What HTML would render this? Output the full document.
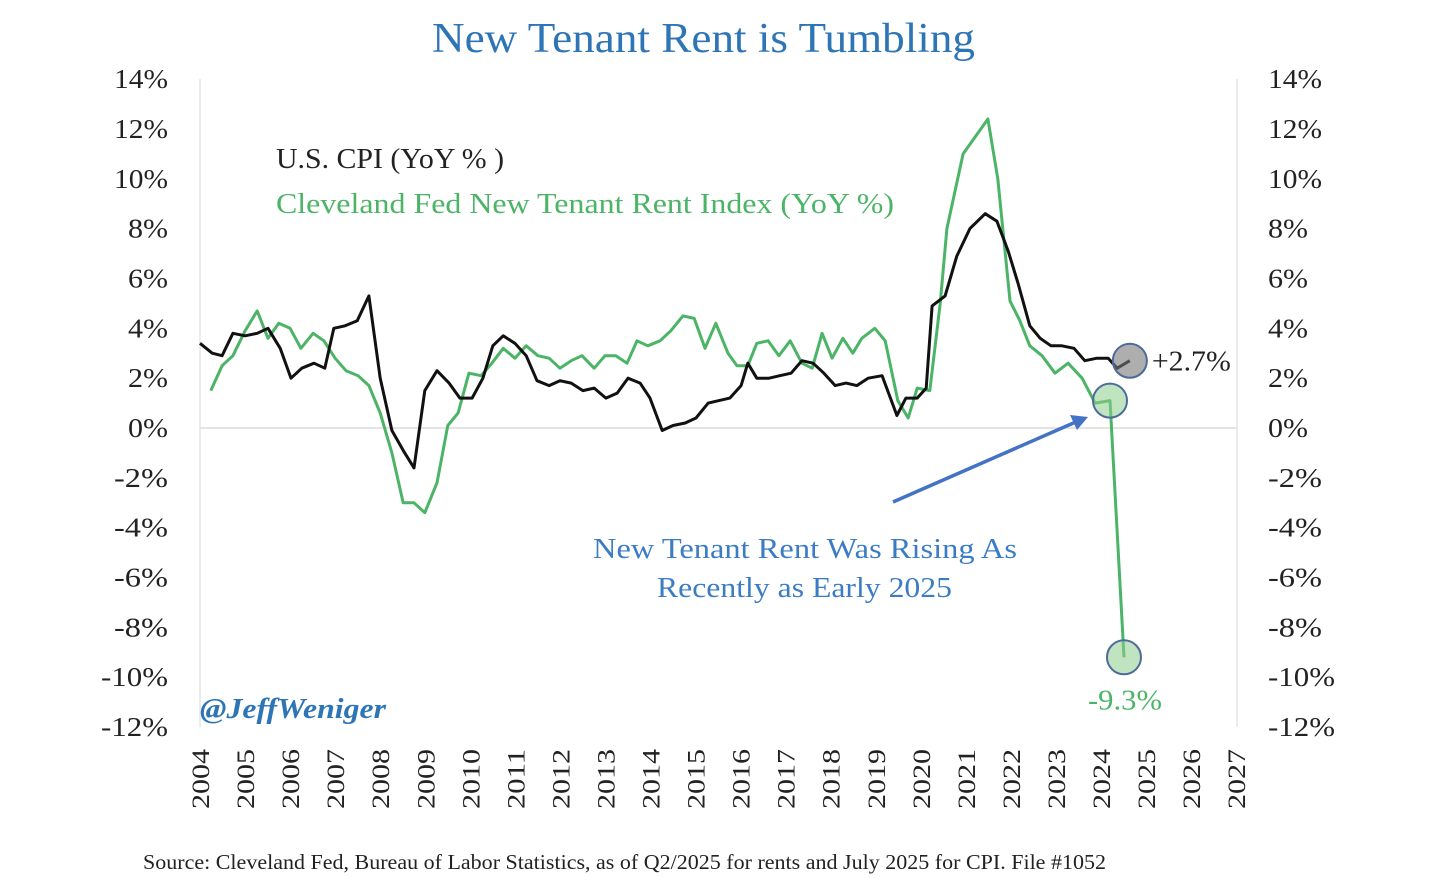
<!DOCTYPE html>
<html><head><meta charset="utf-8"><style>
body{margin:0;background:#fff;}
svg{display:block;font-family:"Liberation Serif",serif;}
</style></head><body>
<svg id="chart" width="1430" height="878" viewBox="0 0 1430 878">
<text x="432" y="52" font-size="42" textLength="543" lengthAdjust="spacingAndGlyphs" fill="#2e75b6">New Tenant Rent is Tumbling</text>
<g id="grid"></g>
<g id="series"></g>
<text x="276" y="168" font-size="28" textLength="228" lengthAdjust="spacingAndGlyphs" fill="#222">U.S. CPI (YoY % )</text>
<text x="276" y="213" font-size="28" textLength="618" lengthAdjust="spacingAndGlyphs" fill="#4cb466">Cleveland Fed New Tenant Rent Index (YoY %)</text>
<text x="593" y="558" font-size="29" textLength="424" lengthAdjust="spacingAndGlyphs" fill="#3b7cc4">New Tenant Rent Was Rising As</text>
<text x="657" y="597" font-size="29" textLength="295" lengthAdjust="spacingAndGlyphs" fill="#3b7cc4">Recently as Early 2025</text>
<text x="200" y="718" font-size="29" textLength="186" lengthAdjust="spacingAndGlyphs" font-weight="bold" font-style="italic" fill="#2e75b6">@JeffWeniger</text>
<text x="143" y="869" font-size="21" textLength="963" lengthAdjust="spacingAndGlyphs" fill="#222">Source: Cleveland Fed, Bureau of Labor Statistics, as of Q2/2025 for rents and July 2025 for CPI. File #1052</text>
</svg>
<script>
const yTicks=[14,12,10,8,6,4,2,0,-2,-4,-6,-8,-10,-12];
const xTicks=[2004,2005,2006,2007,2008,2009,2010,2011,2012,2013,2014,2015,2016,2017,2018,2019,2020,2021,2022,2023,2024,2025,2026,2027];
const cpiDates=[2004.00,2004.27,2004.49,2004.73,2005.00,2005.27,2005.51,2005.78,2006.02,2006.26,2006.53,2006.77,2006.97,2007.22,2007.49,2007.75,2008.00,2008.26,2008.51,2008.75,2008.99,2009.26,2009.53,2009.77,2010.04,2010.28,2010.50,2010.73,2010.99,2011.24,2011.48,2011.75,2011.99,2012.24,2012.50,2012.75,2013.01,2013.26,2013.50,2013.77,2013.99,2014.26,2014.50,2014.77,2015.01,2015.28,2015.52,2015.76,2016.01,2016.16,2016.36,2016.63,2016.87,2017.12,2017.36,2017.61,2017.85,2018.10,2018.34,2018.58,2018.83,2019.14,2019.47,2019.67,2019.92,2020.12,2020.25,2020.54,2020.80,2021.09,2021.43,2021.69,2021.94,2022.16,2022.42,2022.65,2022.89,2023.13,2023.40,2023.64,2023.91,2024.16,2024.36,2024.64];
const cpiValues=[3.4,3.0,2.9,3.8,3.7,3.8,4.0,3.2,2.0,2.4,2.6,2.4,4.0,4.1,4.3,5.3,2.0,-0.1,-0.9,-1.6,1.5,2.3,1.8,1.2,1.2,2.0,3.3,3.7,3.4,2.9,1.9,1.7,1.9,1.8,1.5,1.6,1.2,1.4,2.0,1.8,1.2,-0.1,0.1,0.2,0.4,1.0,1.1,1.2,1.7,2.6,2.0,2.0,2.1,2.2,2.7,2.6,2.2,1.7,1.8,1.7,2.0,2.1,0.5,1.2,1.2,1.6,4.9,5.3,6.9,8.0,8.6,8.3,7.1,5.8,4.1,3.6,3.3,3.3,3.2,2.7,2.8,2.8,2.4,2.7];
const rentDates=[2004.24,2004.49,2004.73,2005.00,2005.27,2005.51,2005.75,2006.00,2006.24,2006.51,2006.75,2007.00,2007.24,2007.51,2007.75,2008.00,2008.26,2008.51,2008.75,2008.99,2009.26,2009.50,2009.73,2009.97,2010.24,2010.48,2010.73,2010.99,2011.24,2011.50,2011.75,2011.99,2012.24,2012.48,2012.75,2012.99,2013.23,2013.48,2013.70,2013.94,2014.21,2014.45,2014.72,2014.97,2015.21,2015.45,2015.72,2015.92,2016.16,2016.36,2016.61,2016.85,2017.10,2017.36,2017.59,2017.81,2018.03,2018.27,2018.49,2018.69,2018.98,2019.21,2019.49,2019.72,2019.92,2020.20,2020.43,2020.58,2020.94,2021.49,2021.71,2021.98,2022.20,2022.42,2022.69,2022.98,2023.27,2023.58,2023.87,2024.20,2024.51];
const rentValues=[1.5,2.5,2.9,3.9,4.7,3.6,4.2,4.0,3.2,3.8,3.5,2.8,2.3,2.1,1.7,0.6,-1.0,-3.0,-3.0,-3.4,-2.2,0.1,0.6,2.2,2.1,2.6,3.2,2.8,3.3,2.9,2.8,2.4,2.7,2.9,2.4,2.9,2.9,2.6,3.5,3.3,3.5,3.9,4.5,4.4,3.2,4.2,3.0,2.5,2.5,3.4,3.5,2.9,3.5,2.6,2.4,3.8,2.8,3.6,3.0,3.6,4.0,3.5,1.1,0.4,1.6,1.5,5.0,8.0,11.0,12.4,10.0,5.1,4.3,3.3,2.9,2.2,2.6,2.0,1.0,1.1,-9.2];
const cpiLabel="+2.7%", rentLabel="-9.3%";

const X=t=>200+(t-2004)*45.05;
const Y=v=>428-v*24.92;
const NS="http://www.w3.org/2000/svg";
function mk(tag,attrs,parent){const e=document.createElementNS(NS,tag);for(const k in attrs)e.setAttribute(k,attrs[k]);parent.appendChild(e);return e;}
const grid=document.getElementById('grid'), ser=document.getElementById('series');

let e=mk('line',{x1:200,x2:200,y1:Y(14),y2:Y(-12),stroke:'#e6e6e6','stroke-width':1.5},grid);


e=mk('line',{x1:1237,x2:1237,y1:Y(14),y2:Y(-12),stroke:'#e6e6e6','stroke-width':1.5},grid);


e=mk('line',{x1:200,x2:1237,y1:Y(0),y2:Y(0),stroke:'#dcdcdc','stroke-width':1.5},grid);



yTicks.forEach(v=>{
  const w=(v<=-10?67:(v<0||v>=10?54:40));
  let t=mk('text',{x:168-w,y:Y(v)+9,'font-size':27,textLength:w,lengthAdjust:'spacingAndGlyphs',fill:'#222'},grid);
  t.textContent=v+'%';
  
  
  let r=mk('text',{x:1268,y:Y(v)+9,'font-size':27,textLength:w,lengthAdjust:'spacingAndGlyphs',fill:'#222'},grid);
  r.textContent=v+'%';
  
  
});
xTicks.forEach(yr=>{
  const x=X(yr)+9;
  let t=mk('text',{x:0,y:0,'text-anchor':'end','font-size':25,textLength:60,lengthAdjust:'spacingAndGlyphs',fill:'#222',transform:`translate(${x},749) rotate(-90)`},grid);
  t.textContent=yr;
  
  
});

function pts(d,v){return d.map((t,i)=>X(t).toFixed(1)+','+Y(v[i]).toFixed(1)).join(' ');}
let rl=mk('polyline',{points:pts(rentDates,rentValues),fill:'none',stroke:'#4cb466','stroke-width':3,'stroke-linejoin':'round'},ser);


let cl=mk('polyline',{points:pts(cpiDates,cpiValues),fill:'none',stroke:'#111','stroke-width':3,'stroke-linejoin':'round'},ser);



let ar=mk('line',{x1:893,y1:502,x2:1078,y2:421,stroke:'#4472c4','stroke-width':3.5},ser);


let ah=mk('polygon',{points:'1088,417 1070,415 1077,430',fill:'#4472c4'},ser);



const rn=rentDates.length, cn=cpiDates.length;
let c1=mk('circle',{cx:X(rentDates[rn-2]),cy:Y(rentValues[rn-2]),r:17,fill:'rgba(140,205,140,0.55)',stroke:'#4d6a9a','stroke-width':2},ser);


let c2=mk('circle',{cx:X(rentDates[rn-1]),cy:Y(rentValues[rn-1]),r:17,fill:'rgba(140,205,140,0.55)',stroke:'#4d6a9a','stroke-width':2},ser);


let c3=mk('circle',{cx:X(cpiDates[cn-1]),cy:Y(cpiValues[cn-1]),r:17,fill:'rgba(120,120,120,0.6)',stroke:'#4d6a9a','stroke-width':2},ser);


let l1=mk('text',{x:X(cpiDates[cn-1])+22,y:Y(cpiValues[cn-1])+10,'font-size':28,textLength:79,lengthAdjust:'spacingAndGlyphs',fill:'#222'},ser);
l1.textContent=cpiLabel;


let l2=mk('text',{x:X(rentDates[rn-1])-36,y:Y(rentValues[rn-1])+52,'font-size':28,textLength:74,lengthAdjust:'spacingAndGlyphs',fill:'#4cb466'},ser);
l2.textContent=rentLabel;


</script>
</body></html>
